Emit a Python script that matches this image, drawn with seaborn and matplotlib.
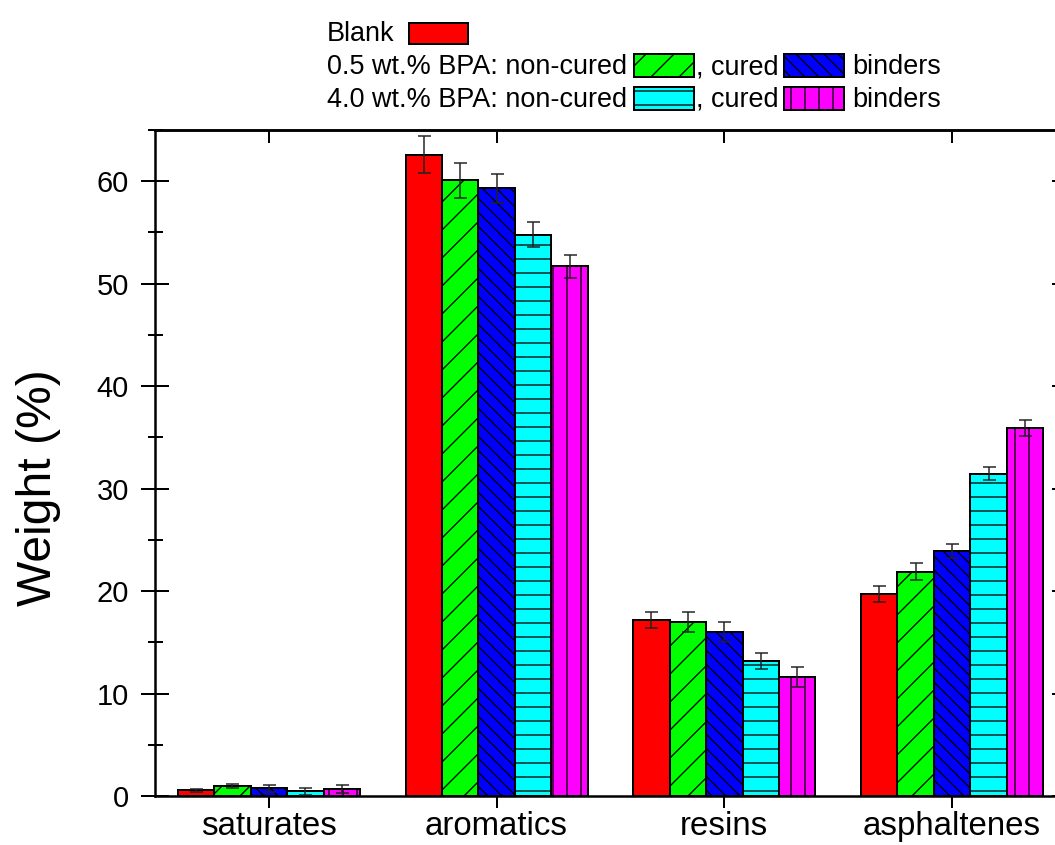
import pandas as pd
import matplotlib
matplotlib.use('Agg')
import matplotlib.pyplot as plt
from matplotlib.patches import Rectangle
from matplotlib.ticker import MultipleLocator
import seaborn as sns

DPI = 84
W, H = 1055, 845


def px(p):
    # pixels -> points at the chosen dpi
    return p * 72 / DPI


fractions = ['saturates', 'aromatics', 'resins', 'asphaltenes']
samples = ['Blank', '0.5 non-cured', '0.5 cured', '4.0 non-cured', '4.0 cured']
colors = ['#ff0000', '#00ff00', '#0000ff', '#00ffff', '#ff00ff']
hatches = ['', '/', '\\\\', '-', '|']

blank = [0.55, 62.6, 17.2, 19.7]
bpa05_noncured = [0.95, 60.1, 17.0, 21.9]
bpa05_cured = [0.75, 59.3, 16.0, 23.9]
bpa40_noncured = [0.45, 54.8, 13.2, 31.45]
bpa40_cured = [0.65, 51.7, 11.6, 35.9]

blank_err = [0.15, 1.8, 0.8, 0.75]
bpa05_noncured_err = [0.2, 1.7, 0.95, 0.85]
bpa05_cured_err = [0.35, 1.4, 1.0, 0.65]
bpa40_noncured_err = [0.35, 1.2, 0.8, 0.65]
bpa40_cured_err = [0.4, 1.1, 0.95, 0.8]

values = [blank, bpa05_noncured, bpa05_cured, bpa40_noncured, bpa40_cured]
errors = [blank_err, bpa05_noncured_err, bpa05_cured_err, bpa40_noncured_err, bpa40_cured_err]

rows = []
for s, vals in zip(samples, values):
    for f, v in zip(fractions, vals):
        rows.append({'fraction': f, 'sample': s, 'weight': v})
df = pd.DataFrame(rows)

sns.set_style('ticks')
plt.rcParams['font.family'] = ['Liberation Sans', 'DejaVu Sans']
plt.rcParams['hatch.linewidth'] = px(1.3)
plt.rcParams['hatch.color'] = 'black'
plt.rcParams['axes.linewidth'] = px(2.5)
for k in ['text.color', 'axes.labelcolor', 'xtick.color', 'ytick.color', 'axes.edgecolor']:
    plt.rcParams[k] = 'black'

fig = plt.figure(figsize=(W / DPI, H / DPI), dpi=DPI, facecolor='white')
ax = fig.add_axes([155 / W, 49 / H, 911 / W, 666 / H])

sns.barplot(data=df, x='fraction', y='weight', hue='sample', order=fractions,
            hue_order=samples, palette=colors, saturation=1, errorbar=None,
            width=0.8, edgecolor='black', linewidth=px(2), legend=False, ax=ax)

for cont, hatch, err in zip(ax.containers, hatches, errors):
    xs = []
    for bar in cont:
        bar.set_hatch(hatch)
        bar.set_edgecolor('black')
        xs.append(bar.get_x() + bar.get_width() / 2)
    ax.errorbar(xs, cont.datavalues, yerr=err, fmt='none', ecolor='#222222',
                elinewidth=px(1.5), capsize=px(6.5), capthick=px(1.5), zorder=5)

ax.set_xlim(-0.5, 3.5)
ax.set_ylim(0, 65)
ax.yaxis.set_major_locator(MultipleLocator(10))
ax.yaxis.set_minor_locator(MultipleLocator(5))
ax.set_xlabel('')
ax.set_ylabel('Weight (%)', fontsize=px(48))
ax.yaxis.set_label_coords((61 - 155) / 911, (796 - 488) / 666)

ax.tick_params(axis='y', which='major', direction='inout', length=px(28),
               width=px(2), right=True, labelsize=px(29), pad=px(12))
ax.tick_params(axis='y', which='minor', direction='inout', length=px(15),
               width=px(2), right=True)
ax.tick_params(axis='x', which='major', direction='out', length=px(12),
               width=px(2), top=False, labelsize=px(33), pad=px(3))

sec = ax.secondary_xaxis('top')
sec.set_xticks(range(len(fractions)))
sec.tick_params(direction='in', length=px(13), width=px(2), labeltop=False)
sec.spines['top'].set_linewidth(px(2.5))

# legend block above the axes
fs = px(27)
fig.text(327 / W, 1 - 41 / H, 'Blank', fontsize=fs, va='baseline')
fig.text(327 / W, 1 - 74 / H, '0.5 wt.% BPA: non-cured', fontsize=fs, va='baseline')
fig.text(696 / W, 1 - 74 / H, ', cured', fontsize=fs, va='baseline')
fig.text(852 / W, 1 - 74 / H, 'binders', fontsize=fs, va='baseline')
fig.text(327 / W, 1 - 107 / H, '4.0 wt.% BPA: non-cured', fontsize=fs, va='baseline')
fig.text(696 / W, 1 - 107 / H, ', cured', fontsize=fs, va='baseline')
fig.text(852 / W, 1 - 107 / H, 'binders', fontsize=fs, va='baseline')

boxes = [(409, 468, 23, 44), (634, 694, 54, 77), (784, 844, 54, 77),
         (634, 694, 87, 110), (784, 844, 87, 110)]
for (x0, x1, y0, y1), c, h in zip(boxes, colors, hatches):
    fig.add_artist(Rectangle((x0 / W, 1 - y1 / H), (x1 - x0) / W, (y1 - y0) / H,
                             transform=fig.transFigure, facecolor=c,
                             edgecolor='black', hatch=h, linewidth=px(2)))

fig.savefig('out.png', dpi=DPI, facecolor='white')
